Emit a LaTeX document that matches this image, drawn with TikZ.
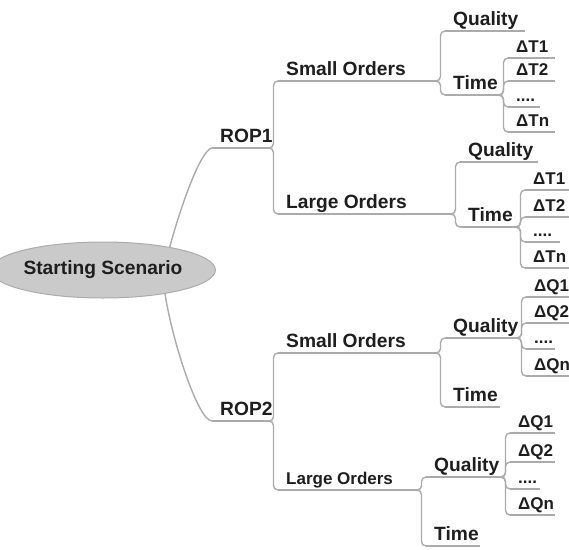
\documentclass[tikz,border=0pt]{standalone}
\usepackage{fontspec}
\setmainfont{Liberation Sans}
\usetikzlibrary{calc,shapes.geometric}

\definecolor{txt}{HTML}{1E1E1E}
\definecolor{wire}{HTML}{ABABAB}
\definecolor{bubble}{HTML}{CACACA}

\tikzset{
  uline/.style={draw=wire, line width=1.4pt},
  forkline/.style={uline, rounded corners=4.5pt},
  lbl/.style={text=txt, inner sep=0pt, font=\bfseries\fontsize{19.2}{19.2}\selectfont},
  sml/.style={lbl, font=\bfseries\fontsize{17}{17}\selectfont},
  rootnode/.style={ellipse, fill=bubble, draw=wire, line width=1pt,
    minimum width=190pt, minimum height=56pt, inner sep=0pt,
    text=txt, font=\bfseries\fontsize{19.2}{19.2}\selectfont},
}

% \mmitem[style]{name}{x start}{x end}{y}{text}: an underlined branch label
\newcommand\mmitem[6][lbl]{%
  \coordinate (#2-s) at (#3,#5);
  \coordinate (#2-e) at (#4,#5);
  \node[#1, anchor=base west] (#2) at ($(#2-s)+(8,-6)$) {#6};
  \draw[uline] (#2-s) -- (#2-e);
}
% \mmfork{parent}{child}: brace-like link from a parent's underline to a child
\newcommand\mmfork[2]{\draw[forkline] (#1-e) -- ++(4.5,0) |- (#2-s);}

\begin{document}
\begin{tikzpicture}[x=1pt, y=-1pt]
\useasboundingbox (0,0) rectangle (569,549);

% root
\node[rootnode] (root) at (103,270) {Starting Scenario};

% first level
\mmitem{rop1}{212}{269}{148}{ROP1}
\mmitem{rop2}{212}{269}{421}{ROP2}
\draw[uline] (root.19) .. controls (182,202) and (201,150) .. (rop1-s);
\draw[uline] (root.-21) .. controls (172,340) and (198,421) .. (rop2-s);

% ROP1 branches
\mmitem{so1}{278}{436}{81}{Small Orders}
\mmitem{lo1}{278}{451}{214}{Large Orders}
\mmfork{rop1}{so1}
\mmfork{rop1}{lo1}

\mmitem{so1q}{445}{525}{31}{Quality}
\mmitem{so1t}{445}{499}{95}{Time}
\mmfork{so1}{so1q}
\mmfork{so1}{so1t}

\mmitem[sml]{so1t1}{508}{555}{58}{ΔT1}
\mmitem[sml]{so1t2}{508}{555}{81}{ΔT2}
\mmitem[sml]{so1t3}{508}{540}{107}{....}
\mmitem[sml]{so1tn}{508}{555}{132}{ΔTn}
\foreach \c in {so1t1,so1t2,so1t3,so1tn} {\mmfork{so1t}{\c}}

\mmitem{lo1q}{460}{538}{162}{Quality}
\mmitem{lo1t}{460}{516}{227}{Time}
\mmfork{lo1}{lo1q}
\mmfork{lo1}{lo1t}

\mmitem[sml]{lo1t1}{525}{569}{190}{ΔT1}
\mmitem[sml]{lo1t2}{525}{569}{217}{ΔT2}
\mmitem[sml]{lo1t3}{525}{560}{242}{....}
\mmitem[sml]{lo1tn}{525}{569}{268}{ΔTn}
\foreach \c in {lo1t1,lo1t2,lo1t3,lo1tn} {\mmfork{lo1t}{\c}}

% ROP2 branches
\mmitem{so2}{278}{436}{353}{Small Orders}
\mmitem[sml]{lo2}{278}{417}{490}{Large Orders}
\mmfork{rop2}{so2}
\mmfork{rop2}{lo2}

\mmitem{so2q}{445}{517}{338}{Quality}
\mmitem{so2t}{445}{500}{407}{Time}
\mmfork{so2}{so2q}
\mmfork{so2}{so2t}

\mmitem[sml]{so2q1}{526}{569}{297}{ΔQ1}
\mmitem[sml]{so2q2}{526}{569}{323}{ΔQ2}
\mmitem[sml]{so2q3}{526}{555}{349}{....}
\mmitem[sml]{so2qn}{526}{569}{376}{ΔQn}
\foreach \c in {so2q1,so2q2,so2q3,so2qn} {\mmfork{so2q}{\c}}

\mmitem{lo2q}{426}{501}{477}{Quality}
\mmitem{lo2t}{426}{480}{546}{Time}
\mmfork{lo2}{lo2q}
\mmfork{lo2}{lo2t}

\mmitem[sml]{lo2q1}{510}{555}{433}{ΔQ1}
\mmitem[sml]{lo2q2}{510}{555}{462}{ΔQ2}
\mmitem[sml]{lo2q3}{510}{540}{489}{....}
\mmitem[sml]{lo2qn}{510}{555}{515}{ΔQn}
\foreach \c in {lo2q1,lo2q2,lo2q3,lo2qn} {\mmfork{lo2q}{\c}}
\end{tikzpicture}
\end{document}
